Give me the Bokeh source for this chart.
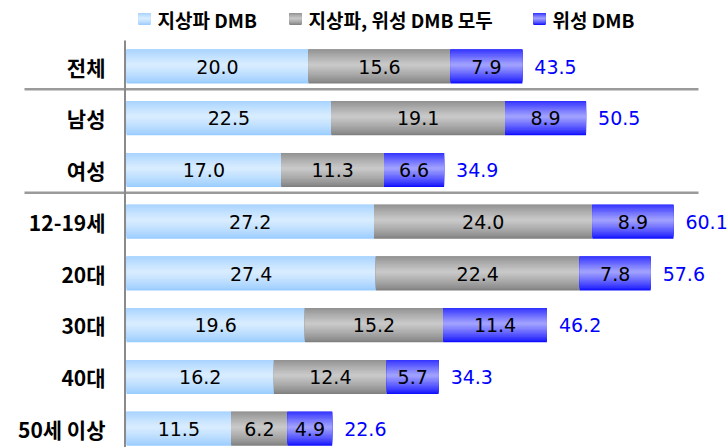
import numpy as np
from bokeh.plotting import figure
from bokeh.models import Range1d, ColumnDataSource
from bokeh.core.properties import value
from bokeh.embed import file_html
from bokeh.resources import INLINE

# --- data -------------------------------------------------------------
groups = ["전체", "남성", "여성", "12-19세", "20대", "30대", "40대", "50세 이상"]
terrestrial = [20.0, 22.5, 17.0, 27.2, 27.4, 19.6, 16.2, 11.5]
both = [15.6, 19.1, 11.3, 24.0, 22.4, 15.2, 12.4, 6.2]
satellite = [7.9, 8.9, 6.6, 8.9, 7.8, 11.4, 5.7, 4.9]
totals = [43.5, 50.5, 34.9, 60.1, 57.6, 46.2, 34.3, 22.6]
series_names = ["지상파 DMB", "지상파, 위성 DMB 모두", "위성 DMB"]
section_starts = [1, 3]  # rows that begin a new block (sex, age)

# gradient edge / centre colours for each series
edge_colors = [(0x99, 0xCC, 0xFF), (0x80, 0x80, 0x80), (0x10, 0x10, 0xFF)]
mid_colors = [(0xDC, 0xEE, 0xFF), (0xCC, 0xCC, 0xCC), (0xA8, 0xA8, 0xFF)]

# --- layout -----------------------------------------------------------
W, H = 728, 447
X0_PX, X_SCALE = 126.0, 9.1     # pixel of value 0, pixels per unit
Y0_PX, Y_STEP = 66.0, 51.75     # pixel of first row, pixels per row
BAR_H = 0.66
LEVELS = 14
LIGHT_AT = 0.45                 # relative height of the brightest band

def px_x(px):
    return (px - X0_PX) / X_SCALE

def px_y(px):
    return (px - Y0_PX) / Y_STEP

def mix(edge, mid, f):
    c = [int(round(e + (m - e) * f)) for e, m in zip(edge, mid)]
    return "#%02x%02x%02x" % tuple(c)

def bands():
    # nested bands: (top fraction, bottom fraction, lightness), widest first
    out = []
    for k in range(LEVELS):
        lv = k / LEVELS
        half = (1 - LIGHT_AT) * (1 - lv)
        lo = max(0.0, LIGHT_AT - half)
        hi = min(1.0, LIGHT_AT + half)
        out.append((lo, hi, lv ** 0.8))
    return out

p = figure(width=W, height=H, output_backend="svg", toolbar_location=None,
           x_range=Range1d(px_x(0), px_x(W)),
           y_range=Range1d(px_y(H), px_y(0)),
           x_axis_location=None, y_axis_location=None,
           min_border=0, outline_line_color=None)
p.grid.visible = False
p.background_fill_color = "white"
p.border_fill_color = "white"

rows = np.arange(len(groups), dtype=float)
series = [np.array(terrestrial), np.array(both), np.array(satellite)]
lefts = [np.zeros(len(groups)), series[0], series[0] + series[1]]

# gradient bars drawn as nested bands, lightest on top
for s in range(3):
    for lo, hi, f in bands():
        yc = rows - BAR_H / 2 + (lo + hi) / 2 * BAR_H
        src = ColumnDataSource(dict(y=yc, left=lefts[s], right=lefts[s] + series[s]))
        p.hbar(y="y", left="left", right="right", height=(hi - lo) * BAR_H,
               fill_color=mix(edge_colors[s], mid_colors[s], f),
               line_color=None, source=src)

# value labels centred in each segment
num_font = value("DejaVu Sans")
for s in range(3):
    src = ColumnDataSource(dict(x=lefts[s] + series[s] / 2, y=rows,
                                t=["%.1f" % v for v in series[s]]))
    p.text(x="x", y="y", text="t", source=src, text_align="center",
           text_baseline="middle", text_font=num_font,
           text_font_size="19px", text_color="black")

# totals beyond the bar ends
tot_src = ColumnDataSource(dict(x=np.array(totals), y=rows,
                                t=["%.1f" % v for v in totals]))
p.text(x="x", y="y", text="t", source=tot_src, x_offset=12,
       text_align="left", text_baseline="middle", text_font=num_font,
       text_font_size="19px", text_color="#0000ff")

# category labels
cat_src = ColumnDataSource(dict(x=[px_x(105)] * len(groups), y=rows, t=groups))
p.text(x="x", y="y", text="t", source=cat_src, text_align="right",
       text_baseline="middle", text_font=value("Noto Sans CJK KR"),
       text_font_style="bold", text_font_size="21px", text_color="black")

# block separators and the vertical axis line
sep_y = [r - 0.5 - 0.06 for r in section_starts]
p.segment(x0=[px_x(24)] * len(sep_y), y0=sep_y,
          x1=[px_x(698)] * len(sep_y), y1=sep_y,
          line_color="#9a9a9a", line_width=2.5)
p.segment(x0=[px_x(124.5)], y0=[px_y(40)], x1=[px_x(124.5)], y1=[px_y(H + 5)],
          line_color="#8a8a8a", line_width=2)

# legend across the top
sw_x = [144, 295, 539]
lab_x = [157, 308, 552]
leg_y = px_y(18.5)
sw_w, sw_h = 12 / X_SCALE, 12 / Y_STEP
for s in range(3):
    for lo, hi, f in bands():
        p.rect(x=[px_x(sw_x[s])], y=[leg_y - sw_h / 2 + (lo + hi) / 2 * sw_h],
               width=sw_w, height=(hi - lo) * sw_h,
               fill_color=mix(edge_colors[s], mid_colors[s], f), line_color=None)
    p.text(x=[px_x(lab_x[s])], y=[leg_y], text=[series_names[s]],
           text_align="left", text_baseline="middle",
           text_font=value("Noto Sans CJK KR"), text_font_style="bold",
           text_font_size="19px", text_color="black")

open("out.html", "w").write(file_html(p, INLINE))
